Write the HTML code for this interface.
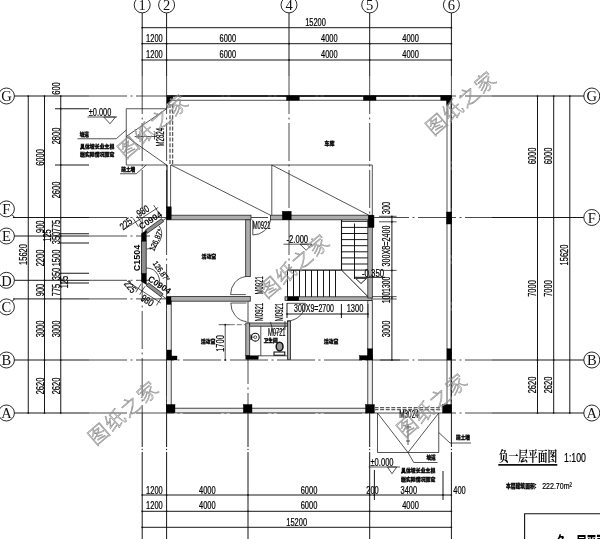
<!DOCTYPE html>
<html lang="zh"><head><meta charset="utf-8"><title>负一层平面图</title>
<style>
html,body{margin:0;padding:0;background:#fff;}
svg{display:block;filter:grayscale(1);}
text{font-family:"Liberation Sans","Noto Sans CJK SC",sans-serif;fill:#111;}
.t{stroke:#1c1c1c;stroke-width:.75;fill:none;}
.m{stroke:#111;stroke-width:1.1;fill:none;}
.x{stroke:#0c0c0c;stroke-width:.95;fill:none;}
.g{stroke:#000;stroke-width:1.5;fill:none;}
.u{stroke:#111;stroke-width:1.6;fill:none;}
.a{stroke:#1c1c1c;stroke-width:.8;fill:none;stroke-dasharray:38 3.5 2 3.5;}
.a2{stroke:#2a2a2a;stroke-width:.65;fill:none;stroke-dasharray:5 2;}
.dash{stroke:#5c5c5c;stroke-width:1.3;fill:none;stroke-dasharray:4 1.6;}
.w{stroke:#222;stroke-width:.8;fill:#adadad;}
.wl{stroke:#1c1c1c;stroke-width:.8;fill:#eee;}
.ws{stroke:#1c1c1c;stroke-width:.8;fill:#8e8e8e;}
.k{fill:#000;stroke:#000;stroke-width:.4;}
.kk{fill:#222;stroke:none;}
.tk{fill:#fff;stroke:#000;stroke-width:1;}
.c{fill:#fff;stroke:#111;stroke-width:.9;}
.s{font-family:"Liberation Serif","Noto Serif CJK SC",serif;}
.d{fill:#000;stroke:#000;stroke-width:.22;}
.b{font-weight:bold;fill:#000;}
.cb{font-family:"Noto Sans CJK SC",sans-serif;font-weight:900;fill:#000;stroke:#000;stroke-width:.3;}
.title{font-family:"Noto Serif CJK SC","Noto Sans CJK SC",serif;font-weight:700;fill:#000;}
.tb{font-family:"Noto Sans CJK SC",sans-serif;font-weight:900;fill:#000;}
.wm{font-family:"Noto Sans CJK SC",sans-serif;font-weight:300;fill:none;stroke:#8e8e8e;stroke-width:.6;}
</style></head>
<body>
<svg width="600" height="539" viewBox="0 0 600 539">
<rect x="0" y="0" width="600" height="539" fill="#fff"/>
<line class="x" x1="142.20" y1="12.50" x2="142.20" y2="76.00" />
<line class="x" x1="166.60" y1="12.50" x2="166.60" y2="76.00" />
<line class="x" x1="289.00" y1="12.50" x2="289.00" y2="76.00" />
<line class="x" x1="369.70" y1="12.50" x2="369.70" y2="76.00" />
<line class="x" x1="451.40" y1="12.50" x2="451.40" y2="76.00" />
<line class="a" x1="142.20" y1="76.00" x2="142.20" y2="413.00" />
<line class="a" x1="166.60" y1="76.00" x2="166.60" y2="413.00" />
<line class="a" x1="369.70" y1="76.00" x2="369.70" y2="413.00" />
<line class="a" x1="451.40" y1="76.00" x2="451.40" y2="413.00" />
<line class="a" x1="289.00" y1="76.00" x2="289.00" y2="270.00" />
<line class="a" x1="248.00" y1="299.00" x2="248.00" y2="413.00" />
<line class="x" x1="142.20" y1="413.00" x2="142.20" y2="447.00" />
<line class="x" x1="142.20" y1="452.00" x2="142.20" y2="539.00" />
<line class="x" x1="142.20" y1="448.80" x2="142.20" y2="450.20" />
<line class="x" x1="166.60" y1="413.00" x2="166.60" y2="447.00" />
<line class="x" x1="166.60" y1="452.00" x2="166.60" y2="539.00" />
<line class="x" x1="166.60" y1="448.80" x2="166.60" y2="450.20" />
<line class="x" x1="248.00" y1="413.00" x2="248.00" y2="447.00" />
<line class="x" x1="248.00" y1="452.00" x2="248.00" y2="539.00" />
<line class="x" x1="248.00" y1="448.80" x2="248.00" y2="450.20" />
<line class="x" x1="369.70" y1="413.00" x2="369.70" y2="447.00" />
<line class="x" x1="369.70" y1="452.00" x2="369.70" y2="539.00" />
<line class="x" x1="369.70" y1="448.80" x2="369.70" y2="450.20" />
<line class="x" x1="451.40" y1="413.00" x2="451.40" y2="447.00" />
<line class="x" x1="451.40" y1="452.00" x2="451.40" y2="539.00" />
<line class="x" x1="451.40" y1="448.80" x2="451.40" y2="450.20" />
<line class="x" x1="13.00" y1="96.00" x2="89.00" y2="96.00" />
<line class="x" x1="13.00" y1="217.50" x2="89.00" y2="217.50" />
<line class="x" x1="13.00" y1="236.00" x2="89.00" y2="236.00" />
<line class="x" x1="13.00" y1="280.30" x2="89.00" y2="280.30" />
<line class="x" x1="13.00" y1="298.90" x2="89.00" y2="298.90" />
<line class="x" x1="13.00" y1="360.00" x2="89.00" y2="360.00" />
<line class="x" x1="13.00" y1="413.00" x2="89.00" y2="413.00" />
<line class="a" x1="89.00" y1="96.00" x2="492.00" y2="96.00" />
<line class="a" x1="89.00" y1="217.50" x2="492.00" y2="217.50" />
<line class="a" x1="89.00" y1="360.00" x2="492.00" y2="360.00" />
<line class="a" x1="89.00" y1="413.00" x2="492.00" y2="413.00" />
<line class="a" x1="89.00" y1="236.00" x2="150.00" y2="236.00" />
<line class="a" x1="89.00" y1="280.30" x2="150.00" y2="280.30" />
<line class="a" x1="89.00" y1="298.90" x2="167.00" y2="298.90" />
<line class="x" x1="492.00" y1="96.00" x2="584.00" y2="96.00" />
<line class="x" x1="492.00" y1="217.50" x2="584.00" y2="217.50" />
<line class="x" x1="492.00" y1="360.00" x2="584.00" y2="360.00" />
<line class="x" x1="492.00" y1="413.00" x2="584.00" y2="413.00" />
<line class="x" x1="11.80" y1="214.40" x2="14.60" y2="217.40" />
<line class="x" x1="11.80" y1="301.60" x2="14.60" y2="299.00" />
<circle class="c" cx="142.20" cy="4.90" r="8.0"/>
<text class="s" transform="translate(142.20,5.10)" y="5.22" font-size="14.5" text-anchor="middle" >1</text>
<circle class="c" cx="166.60" cy="4.90" r="8.0"/>
<text class="s" transform="translate(166.60,5.10)" y="5.22" font-size="14.5" text-anchor="middle" >2</text>
<circle class="c" cx="289.00" cy="4.90" r="8.0"/>
<text class="s" transform="translate(289.00,5.10)" y="5.22" font-size="14.5" text-anchor="middle" >4</text>
<circle class="c" cx="369.70" cy="4.90" r="8.0"/>
<text class="s" transform="translate(369.70,5.10)" y="5.22" font-size="14.5" text-anchor="middle" >5</text>
<circle class="c" cx="451.40" cy="4.90" r="8.0"/>
<text class="s" transform="translate(451.40,5.10)" y="5.22" font-size="14.5" text-anchor="middle" >6</text>
<circle class="c" cx="6.40" cy="96.00" r="8.0"/>
<text class="s" transform="translate(6.40,96.20)" y="5.22" font-size="14.5" text-anchor="middle" >G</text>
<circle class="c" cx="6.40" cy="208.90" r="8.0"/>
<text class="s" transform="translate(6.40,209.10)" y="5.22" font-size="14.5" text-anchor="middle" >F</text>
<circle class="c" cx="6.40" cy="236.00" r="8.0"/>
<text class="s" transform="translate(6.40,236.20)" y="5.22" font-size="14.5" text-anchor="middle" >E</text>
<circle class="c" cx="6.40" cy="280.30" r="8.0"/>
<text class="s" transform="translate(6.40,280.50)" y="5.22" font-size="14.5" text-anchor="middle" >D</text>
<circle class="c" cx="6.40" cy="306.90" r="8.0"/>
<text class="s" transform="translate(6.40,307.10)" y="5.22" font-size="14.5" text-anchor="middle" >C</text>
<circle class="c" cx="6.40" cy="360.00" r="8.0"/>
<text class="s" transform="translate(6.40,360.20)" y="5.22" font-size="14.5" text-anchor="middle" >B</text>
<circle class="c" cx="6.40" cy="413.00" r="8.0"/>
<text class="s" transform="translate(6.40,413.20)" y="5.22" font-size="14.5" text-anchor="middle" >A</text>
<circle class="c" cx="591.80" cy="96.00" r="8.0"/>
<text class="s" transform="translate(591.80,96.20)" y="5.22" font-size="14.5" text-anchor="middle" >G</text>
<circle class="c" cx="591.80" cy="217.50" r="8.0"/>
<text class="s" transform="translate(591.80,217.70)" y="5.22" font-size="14.5" text-anchor="middle" >F</text>
<circle class="c" cx="591.80" cy="360.00" r="8.0"/>
<text class="s" transform="translate(591.80,360.20)" y="5.22" font-size="14.5" text-anchor="middle" >B</text>
<circle class="c" cx="591.80" cy="413.00" r="8.0"/>
<text class="s" transform="translate(591.80,413.20)" y="5.22" font-size="14.5" text-anchor="middle" >A</text>
<line class="x" x1="142.20" y1="27.70" x2="451.40" y2="27.70" />
<line class="x" x1="142.20" y1="43.70" x2="451.40" y2="43.70" />
<line class="x" x1="142.20" y1="60.00" x2="451.40" y2="60.00" />
<text class="d" transform="translate(315.50,22.70)" y="3.60" font-size="10" text-anchor="middle" textLength="20.75" lengthAdjust="spacingAndGlyphs" >15200</text>
<text class="d" transform="translate(154.40,38.30)" y="3.60" font-size="10" text-anchor="middle" textLength="16.60" lengthAdjust="spacingAndGlyphs" >1200</text>
<text class="d" transform="translate(227.80,38.30)" y="3.60" font-size="10" text-anchor="middle" textLength="16.60" lengthAdjust="spacingAndGlyphs" >6000</text>
<text class="d" transform="translate(329.35,38.30)" y="3.60" font-size="10" text-anchor="middle" textLength="16.60" lengthAdjust="spacingAndGlyphs" >4000</text>
<text class="d" transform="translate(410.55,38.30)" y="3.60" font-size="10" text-anchor="middle" textLength="16.60" lengthAdjust="spacingAndGlyphs" >4000</text>
<circle cx="142.20" cy="43.70" r="0.85" fill="#111"/>
<circle cx="166.60" cy="43.70" r="0.85" fill="#111"/>
<circle cx="289.00" cy="43.70" r="0.85" fill="#111"/>
<circle cx="369.70" cy="43.70" r="0.85" fill="#111"/>
<circle cx="451.40" cy="43.70" r="0.85" fill="#111"/>
<text class="d" transform="translate(154.40,54.30)" y="3.60" font-size="10" text-anchor="middle" textLength="16.60" lengthAdjust="spacingAndGlyphs" >1200</text>
<text class="d" transform="translate(227.80,54.30)" y="3.60" font-size="10" text-anchor="middle" textLength="16.60" lengthAdjust="spacingAndGlyphs" >6000</text>
<text class="d" transform="translate(329.35,54.30)" y="3.60" font-size="10" text-anchor="middle" textLength="16.60" lengthAdjust="spacingAndGlyphs" >4000</text>
<text class="d" transform="translate(410.55,54.30)" y="3.60" font-size="10" text-anchor="middle" textLength="16.60" lengthAdjust="spacingAndGlyphs" >4000</text>
<circle cx="142.20" cy="60.00" r="0.85" fill="#111"/>
<circle cx="166.60" cy="60.00" r="0.85" fill="#111"/>
<circle cx="289.00" cy="60.00" r="0.85" fill="#111"/>
<circle cx="369.70" cy="60.00" r="0.85" fill="#111"/>
<circle cx="451.40" cy="60.00" r="0.85" fill="#111"/>
<circle cx="142.20" cy="27.70" r="0.85" fill="#111"/>
<circle cx="451.40" cy="27.70" r="0.85" fill="#111"/>
<line class="x" x1="142.20" y1="495.00" x2="451.40" y2="495.00" />
<line class="x" x1="142.20" y1="511.30" x2="451.40" y2="511.30" />
<line class="x" x1="142.20" y1="527.30" x2="451.40" y2="527.30" />
<text class="d" transform="translate(154.40,490.00)" y="3.60" font-size="10" text-anchor="middle" textLength="16.60" lengthAdjust="spacingAndGlyphs" >1200</text>
<text class="d" transform="translate(207.30,490.00)" y="3.60" font-size="10" text-anchor="middle" textLength="16.60" lengthAdjust="spacingAndGlyphs" >4000</text>
<text class="d" transform="translate(309.00,490.00)" y="3.60" font-size="10" text-anchor="middle" textLength="16.60" lengthAdjust="spacingAndGlyphs" >6000</text>
<text class="d" transform="translate(372.50,490.00)" y="3.60" font-size="10" text-anchor="middle" textLength="12.45" lengthAdjust="spacingAndGlyphs" >200</text>
<text class="d" transform="translate(408.80,490.00)" y="3.60" font-size="10" text-anchor="middle" textLength="16.60" lengthAdjust="spacingAndGlyphs" >3400</text>
<text class="d" transform="translate(459.50,490.00)" y="3.60" font-size="10" text-anchor="middle" textLength="12.45" lengthAdjust="spacingAndGlyphs" >400</text>
<text class="d" transform="translate(154.40,505.60)" y="3.60" font-size="10" text-anchor="middle" textLength="16.60" lengthAdjust="spacingAndGlyphs" >1200</text>
<text class="d" transform="translate(207.30,505.60)" y="3.60" font-size="10" text-anchor="middle" textLength="16.60" lengthAdjust="spacingAndGlyphs" >4000</text>
<text class="d" transform="translate(309.00,505.60)" y="3.60" font-size="10" text-anchor="middle" textLength="16.60" lengthAdjust="spacingAndGlyphs" >6000</text>
<text class="d" transform="translate(410.50,505.60)" y="3.60" font-size="10" text-anchor="middle" textLength="16.60" lengthAdjust="spacingAndGlyphs" >4000</text>
<text class="d" transform="translate(296.70,522.00)" y="3.60" font-size="10" text-anchor="middle" textLength="20.75" lengthAdjust="spacingAndGlyphs" >15200</text>
<circle cx="142.20" cy="495.00" r="0.85" fill="#111"/>
<circle cx="142.20" cy="511.30" r="0.85" fill="#111"/>
<circle cx="166.60" cy="495.00" r="0.85" fill="#111"/>
<circle cx="166.60" cy="511.30" r="0.85" fill="#111"/>
<circle cx="248.00" cy="495.00" r="0.85" fill="#111"/>
<circle cx="248.00" cy="511.30" r="0.85" fill="#111"/>
<circle cx="369.70" cy="495.00" r="0.85" fill="#111"/>
<circle cx="369.70" cy="511.30" r="0.85" fill="#111"/>
<circle cx="451.40" cy="495.00" r="0.85" fill="#111"/>
<circle cx="451.40" cy="511.30" r="0.85" fill="#111"/>
<circle cx="142.20" cy="527.30" r="0.85" fill="#111"/>
<circle cx="451.40" cy="527.30" r="0.85" fill="#111"/>
<line class="x" x1="374.40" y1="470.00" x2="374.40" y2="500.00" />
<line class="x" x1="443.00" y1="471.00" x2="443.00" y2="500.00" />
<circle cx="374.30" cy="495.00" r="0.85" fill="#111"/>
<circle cx="443.00" cy="495.00" r="0.85" fill="#111"/>
<line class="x" x1="28.25" y1="96.00" x2="28.25" y2="413.00" />
<line class="x" x1="44.50" y1="96.00" x2="44.50" y2="413.00" />
<line class="x" x1="60.75" y1="96.00" x2="60.75" y2="413.00" />
<text class="d" transform="translate(23.00,254.50) rotate(-90)" y="3.60" font-size="10" text-anchor="middle" textLength="20.75" lengthAdjust="spacingAndGlyphs" >15620</text>
<text class="d" transform="translate(40.00,157.50) rotate(-90)" y="3.60" font-size="10" text-anchor="middle" textLength="16.60" lengthAdjust="spacingAndGlyphs" >6000</text>
<text class="d" transform="translate(40.00,226.80) rotate(-90)" y="3.60" font-size="10" text-anchor="middle" textLength="12.45" lengthAdjust="spacingAndGlyphs" >900</text>
<text class="d" transform="translate(40.00,258.00) rotate(-90)" y="3.60" font-size="10" text-anchor="middle" textLength="16.60" lengthAdjust="spacingAndGlyphs" >2200</text>
<text class="d" transform="translate(40.00,290.00) rotate(-90)" y="3.60" font-size="10" text-anchor="middle" textLength="12.45" lengthAdjust="spacingAndGlyphs" >900</text>
<text class="d" transform="translate(40.00,329.00) rotate(-90)" y="3.60" font-size="10" text-anchor="middle" textLength="16.60" lengthAdjust="spacingAndGlyphs" >3000</text>
<text class="d" transform="translate(40.00,386.00) rotate(-90)" y="3.60" font-size="10" text-anchor="middle" textLength="16.60" lengthAdjust="spacingAndGlyphs" >2620</text>
<text class="d" transform="translate(56.30,88.50) rotate(-90)" y="3.60" font-size="10" text-anchor="middle" textLength="12.45" lengthAdjust="spacingAndGlyphs" >600</text>
<text class="d" transform="translate(56.30,136.00) rotate(-90)" y="3.60" font-size="10" text-anchor="middle" textLength="16.60" lengthAdjust="spacingAndGlyphs" >2800</text>
<text class="d" transform="translate(56.30,190.00) rotate(-90)" y="3.60" font-size="10" text-anchor="middle" textLength="16.60" lengthAdjust="spacingAndGlyphs" >2600</text>
<text class="d" transform="translate(56.30,226.00) rotate(-90)" y="3.60" font-size="10" text-anchor="middle" textLength="12.45" lengthAdjust="spacingAndGlyphs" >775</text>
<text class="d" transform="translate(56.30,258.00) rotate(-90)" y="3.60" font-size="10" text-anchor="middle" textLength="16.60" lengthAdjust="spacingAndGlyphs" >1500</text>
<text class="d" transform="translate(56.30,290.00) rotate(-90)" y="3.60" font-size="10" text-anchor="middle" textLength="12.45" lengthAdjust="spacingAndGlyphs" >775</text>
<text class="d" transform="translate(56.30,329.00) rotate(-90)" y="3.60" font-size="10" text-anchor="middle" textLength="16.60" lengthAdjust="spacingAndGlyphs" >3000</text>
<text class="d" transform="translate(56.30,386.00) rotate(-90)" y="3.60" font-size="10" text-anchor="middle" textLength="16.60" lengthAdjust="spacingAndGlyphs" >2620</text>
<text class="d" transform="translate(56.30,238.00) rotate(-90)" y="3.60" font-size="10" text-anchor="middle" textLength="12.45" lengthAdjust="spacingAndGlyphs" >350</text>
<text class="d" transform="translate(47.50,235.50) rotate(-90)" y="3.60" font-size="10" text-anchor="middle" textLength="12.45" lengthAdjust="spacingAndGlyphs" >125</text>
<text class="d" transform="translate(56.30,274.00) rotate(-90)" y="3.60" font-size="10" text-anchor="middle" textLength="12.45" lengthAdjust="spacingAndGlyphs" >350</text>
<text class="d" transform="translate(64.00,282.00) rotate(-90)" y="3.60" font-size="10" text-anchor="middle" textLength="12.45" lengthAdjust="spacingAndGlyphs" >125</text>
<line class="x" x1="55.00" y1="108.75" x2="89.00" y2="108.75" />
<line class="x" x1="55.00" y1="165.00" x2="89.00" y2="165.00" />
<line class="x" x1="60.00" y1="233.75" x2="89.00" y2="233.75" />
<line class="x" x1="60.00" y1="243.00" x2="89.00" y2="243.00" />
<line class="x" x1="60.00" y1="273.25" x2="89.00" y2="273.25" />
<line class="x" x1="60.00" y1="283.00" x2="89.00" y2="283.00" />
<circle cx="44.50" cy="96.00" r="0.85" fill="#111"/>
<circle cx="60.75" cy="96.00" r="0.85" fill="#111"/>
<circle cx="44.50" cy="217.50" r="0.85" fill="#111"/>
<circle cx="60.75" cy="217.50" r="0.85" fill="#111"/>
<circle cx="44.50" cy="236.00" r="0.85" fill="#111"/>
<circle cx="60.75" cy="236.00" r="0.85" fill="#111"/>
<circle cx="44.50" cy="280.30" r="0.85" fill="#111"/>
<circle cx="60.75" cy="280.30" r="0.85" fill="#111"/>
<circle cx="44.50" cy="298.90" r="0.85" fill="#111"/>
<circle cx="60.75" cy="298.90" r="0.85" fill="#111"/>
<circle cx="44.50" cy="360.00" r="0.85" fill="#111"/>
<circle cx="60.75" cy="360.00" r="0.85" fill="#111"/>
<circle cx="44.50" cy="413.00" r="0.85" fill="#111"/>
<circle cx="60.75" cy="413.00" r="0.85" fill="#111"/>
<circle cx="28.25" cy="96.00" r="0.85" fill="#111"/>
<circle cx="28.25" cy="413.00" r="0.85" fill="#111"/>
<circle cx="60.75" cy="108.75" r="0.85" fill="#111"/>
<circle cx="60.75" cy="165.00" r="0.85" fill="#111"/>
<line class="x" x1="537.50" y1="96.00" x2="537.50" y2="413.00" />
<line class="x" x1="553.70" y1="96.00" x2="553.70" y2="413.00" />
<line class="x" x1="569.80" y1="96.00" x2="569.80" y2="413.00" />
<text class="d" transform="translate(532.50,156.00) rotate(-90)" y="3.60" font-size="10" text-anchor="middle" textLength="16.60" lengthAdjust="spacingAndGlyphs" >6000</text>
<text class="d" transform="translate(532.50,288.50) rotate(-90)" y="3.60" font-size="10" text-anchor="middle" textLength="16.60" lengthAdjust="spacingAndGlyphs" >7000</text>
<text class="d" transform="translate(532.50,385.00) rotate(-90)" y="3.60" font-size="10" text-anchor="middle" textLength="16.60" lengthAdjust="spacingAndGlyphs" >2620</text>
<text class="d" transform="translate(548.60,156.00) rotate(-90)" y="3.60" font-size="10" text-anchor="middle" textLength="16.60" lengthAdjust="spacingAndGlyphs" >6000</text>
<text class="d" transform="translate(548.60,288.50) rotate(-90)" y="3.60" font-size="10" text-anchor="middle" textLength="16.60" lengthAdjust="spacingAndGlyphs" >7000</text>
<text class="d" transform="translate(548.60,385.00) rotate(-90)" y="3.60" font-size="10" text-anchor="middle" textLength="16.60" lengthAdjust="spacingAndGlyphs" >2620</text>
<text class="d" transform="translate(564.00,255.00) rotate(-90)" y="3.60" font-size="10" text-anchor="middle" textLength="20.75" lengthAdjust="spacingAndGlyphs" >15620</text>
<circle cx="537.50" cy="96.00" r="0.85" fill="#111"/>
<circle cx="553.70" cy="96.00" r="0.85" fill="#111"/>
<circle cx="537.50" cy="217.50" r="0.85" fill="#111"/>
<circle cx="553.70" cy="217.50" r="0.85" fill="#111"/>
<circle cx="537.50" cy="360.00" r="0.85" fill="#111"/>
<circle cx="553.70" cy="360.00" r="0.85" fill="#111"/>
<circle cx="537.50" cy="413.00" r="0.85" fill="#111"/>
<circle cx="553.70" cy="413.00" r="0.85" fill="#111"/>
<circle cx="569.80" cy="96.00" r="0.85" fill="#111"/>
<circle cx="569.80" cy="413.00" r="0.85" fill="#111"/>
<line class="g" x1="166.60" y1="96.00" x2="451.40" y2="96.00" />
<line class="t" x1="171.00" y1="100.30" x2="447.00" y2="100.30" />
<line class="t" x1="447.00" y1="100.30" x2="447.00" y2="413.00" />
<line class="m" x1="451.20" y1="96.00" x2="451.20" y2="413.00" />
<line class="m" x1="167.00" y1="165.00" x2="167.00" y2="217.00" />
<line class="t" x1="170.60" y1="165.00" x2="170.60" y2="217.00" />
<rect class="w" x="167.00" y="215.20" width="84.00" height="4.60"/>
<rect class="w" x="270.50" y="215.20" width="102.00" height="4.60"/>
<rect class="w" x="245.70" y="219.80" width="4.60" height="56.80"/>
<rect class="w" x="167.00" y="296.50" width="83.30" height="4.70"/>
<rect class="w" x="285.00" y="296.80" width="87.00" height="3.80"/>
<rect class="wl" x="166.60" y="301.00" width="4.60" height="106.50"/>
<rect class="wl" x="167.00" y="408.20" width="205.00" height="4.70"/>
<rect class="w" x="367.80" y="219.80" width="4.50" height="78.20"/>
<rect class="wl" x="367.80" y="300.60" width="4.50" height="106.90"/>
<rect class="w" x="245.80" y="323.00" width="3.90" height="32.60"/>
<rect class="w" x="287.40" y="321.00" width="3.20" height="38.30"/>
<rect class="w" x="249.70" y="323.00" width="37.70" height="3.20"/>
<line class="t" x1="258.00" y1="355.80" x2="287.40" y2="355.80" />
<line class="t" x1="260.80" y1="326.20" x2="260.80" y2="355.80" />
<rect class="k" x="286.50" y="96.00" width="12.80" height="4.20"/>
<rect class="k" x="363.40" y="96.00" width="12.60" height="4.20"/>
<path class="k" d="M440.7,95.7 L451.3,95.7 L451.3,100 L448.5,105.3 L446.7,105.3 L446.7,100.2 L440.7,100.2 Z"/>
<path class="k" d="M167,97 L172.5,96.3 L173,98 L168.5,103.5 L167,103.5 Z"/>
<rect class="k" x="166.50" y="206.80" width="4.70" height="12.80"/>
<rect class="k" x="282.30" y="211.30" width="8.90" height="8.50"/>
<rect class="k" x="368.20" y="215.20" width="5.80" height="12.30"/>
<rect class="k" x="446.50" y="212.00" width="5.10" height="12.00"/>
<rect class="k" x="166.50" y="297.00" width="4.50" height="7.40"/>
<rect class="k" x="287.50" y="296.80" width="11.30" height="3.80"/>
<rect class="k" x="167.00" y="350.00" width="4.20" height="10.00"/>
<rect class="k" x="167.00" y="356.00" width="10.00" height="4.00"/>
<rect class="k" x="367.80" y="348.80" width="4.70" height="11.20"/>
<rect class="k" x="359.50" y="355.60" width="13.00" height="4.40"/>
<rect class="k" x="447.00" y="348.80" width="4.60" height="11.20"/>
<rect class="k" x="166.20" y="404.50" width="8.80" height="8.30"/>
<rect class="k" x="243.30" y="404.50" width="8.70" height="8.30"/>
<rect class="k" x="365.50" y="404.50" width="8.90" height="8.50"/>
<rect class="k" x="442.50" y="404.50" width="8.90" height="8.50"/>
<rect class="k" x="245.80" y="355.80" width="12.40" height="3.50"/>
<line class="dash" x1="170.00" y1="104.00" x2="170.00" y2="165.00" />
<line class="dash" x1="172.60" y1="104.00" x2="172.60" y2="165.00" />
<line class="dash" x1="374.50" y1="407.60" x2="442.50" y2="407.60" />
<line class="dash" x1="374.50" y1="409.70" x2="442.50" y2="409.70" />
<line class="t" x1="171.00" y1="165.00" x2="372.30" y2="165.00" />
<line class="t" x1="271.80" y1="165.00" x2="271.80" y2="215.00" />
<line class="t" x1="372.30" y1="165.00" x2="372.30" y2="215.00" />
<line class="t" x1="171.00" y1="165.00" x2="270.00" y2="215.00" />
<line class="t" x1="271.80" y1="165.00" x2="368.50" y2="215.00" />
<text class="cb" transform="translate(329.50,143.00)" y="1.80" font-size="5" text-anchor="middle" >车库</text>
<line class="m" x1="341.50" y1="219.80" x2="341.50" y2="270.10" />
<line class="x" x1="341.50" y1="270.10" x2="367.80" y2="270.10" />
<line class="x" x1="341.50" y1="264.00" x2="367.80" y2="264.00" />
<line class="x" x1="341.50" y1="257.90" x2="367.80" y2="257.90" />
<line class="x" x1="341.50" y1="251.80" x2="367.80" y2="251.80" />
<line class="x" x1="341.50" y1="245.70" x2="367.80" y2="245.70" />
<line class="x" x1="341.50" y1="239.60" x2="367.80" y2="239.60" />
<line class="x" x1="341.50" y1="233.50" x2="367.80" y2="233.50" />
<line class="x" x1="341.50" y1="227.40" x2="367.80" y2="227.40" />
<line class="x" x1="341.50" y1="221.30" x2="367.80" y2="221.30" />
<line class="m" x1="288.00" y1="270.10" x2="341.50" y2="270.10" />
<line class="x" x1="335.50" y1="270.10" x2="335.50" y2="296.80" />
<line class="x" x1="329.50" y1="270.10" x2="329.50" y2="296.80" />
<line class="x" x1="323.50" y1="270.10" x2="323.50" y2="296.80" />
<line class="x" x1="317.50" y1="270.10" x2="317.50" y2="296.80" />
<line class="x" x1="311.50" y1="270.10" x2="311.50" y2="296.80" />
<line class="x" x1="305.50" y1="270.10" x2="305.50" y2="296.80" />
<line class="x" x1="299.50" y1="270.10" x2="299.50" y2="296.80" />
<line class="x" x1="293.50" y1="270.10" x2="293.50" y2="296.80" />
<line class="x" x1="287.50" y1="270.10" x2="287.50" y2="296.80" />
<line class="x" x1="341.50" y1="270.10" x2="367.80" y2="296.50" />
<line class="x" x1="354.50" y1="223.50" x2="354.50" y2="279.00" />
<path class="x" d="M355.5,278.3 L366.6,278.3 L361,283.5 Z"/>
<line class="x" x1="354.00" y1="277.30" x2="385.00" y2="277.30" />
<text class="d" transform="translate(373.00,273.30)" y="3.60" font-size="10" text-anchor="middle" textLength="22.20" lengthAdjust="spacingAndGlyphs" >-0.350</text>
<text class="d" transform="translate(297.30,239.50)" y="3.60" font-size="10" text-anchor="middle" textLength="21.60" lengthAdjust="spacingAndGlyphs" >-2.000</text>
<line class="t" x1="283.40" y1="244.20" x2="308.50" y2="244.20" />
<path class="t" d="M300,244.2 L312,244.2 L306.2,250.3 Z"/>
<line class="x" x1="287.00" y1="314.00" x2="368.00" y2="314.00" />
<line class="x" x1="287.00" y1="303.00" x2="287.00" y2="318.00" />
<line class="x" x1="341.40" y1="304.00" x2="341.40" y2="318.00" />
<line class="t" x1="368.00" y1="304.00" x2="368.00" y2="318.00" />
<circle cx="287.00" cy="314.00" r="0.85" fill="#111"/>
<circle cx="341.40" cy="314.00" r="0.85" fill="#111"/>
<circle cx="368.00" cy="314.00" r="0.85" fill="#111"/>
<text class="d" transform="translate(314.00,308.70)" y="3.60" font-size="10" text-anchor="middle" textLength="40.00" lengthAdjust="spacingAndGlyphs" >300X9=2700</text>
<text class="d" transform="translate(355.00,308.70)" y="3.60" font-size="10" text-anchor="middle" textLength="16.60" lengthAdjust="spacingAndGlyphs" >1300</text>
<line class="x" x1="391.90" y1="216.30" x2="391.90" y2="360.00" />
<line class="t" x1="379.00" y1="216.30" x2="396.60" y2="216.30" />
<line class="t" x1="379.00" y1="221.80" x2="396.60" y2="221.80" />
<line class="t" x1="379.00" y1="270.40" x2="396.60" y2="270.40" />
<line class="t" x1="372.30" y1="296.60" x2="396.60" y2="296.60" />
<line class="t" x1="372.30" y1="299.00" x2="396.60" y2="299.00" />
<circle cx="391.90" cy="216.30" r="0.85" fill="#111"/>
<circle cx="391.90" cy="221.80" r="0.85" fill="#111"/>
<circle cx="391.90" cy="270.40" r="0.85" fill="#111"/>
<text class="d" transform="translate(386.60,208.00) rotate(-90)" y="3.60" font-size="10" text-anchor="middle" textLength="12.45" lengthAdjust="spacingAndGlyphs" >300</text>
<text class="d" transform="translate(386.60,246.00) rotate(-90)" y="3.60" font-size="10" text-anchor="middle" textLength="41.00" lengthAdjust="spacingAndGlyphs" >300X8=2400</text>
<text class="d" transform="translate(386.60,290.00) rotate(-90)" y="3.60" font-size="10" text-anchor="middle" textLength="26.60" lengthAdjust="spacingAndGlyphs" >1001300</text>
<text class="d" transform="translate(386.30,329.00) rotate(-90)" y="3.60" font-size="10" text-anchor="middle" textLength="16.60" lengthAdjust="spacingAndGlyphs" >3000</text>
<circle cx="391.90" cy="360.00" r="0.85" fill="#111"/>
<circle cx="391.90" cy="297.80" r="0.85" fill="#111"/>
<line class="t" x1="380.00" y1="360.00" x2="400.00" y2="360.00" />
<line class="t" x1="252.80" y1="219.80" x2="252.80" y2="235.00" />
<path class="t" d="M252.8,235 A17.7,17.7 0 0 0 270.5,219.8"/>
<text class="d" transform="translate(261.60,225.80)" y="3.60" font-size="10" text-anchor="middle" textLength="17.75" lengthAdjust="spacingAndGlyphs" >M0921</text>
<line class="t" x1="230.60" y1="294.60" x2="245.80" y2="294.60" />
<path class="t" d="M230.6,294.6 A17,18 0 0 1 245.8,276.6"/>
<line class="t" x1="230.80" y1="303.00" x2="246.50" y2="303.00" />
<path class="t" d="M230.8,303 A17,18.6 0 0 0 246.5,321.6"/>
<line class="t" x1="287.00" y1="303.30" x2="305.30" y2="303.30" />
<path class="t" d="M287,321 A18.3,17.7 0 0 0 305.3,303.3"/>
<text class="d" transform="translate(259.30,285.30) rotate(-90)" y="3.60" font-size="10" text-anchor="middle" textLength="18.25" lengthAdjust="spacingAndGlyphs" >M0921</text>
<text class="d" transform="translate(259.80,312.00) rotate(-90)" y="3.60" font-size="10" text-anchor="middle" textLength="18.25" lengthAdjust="spacingAndGlyphs" >M0921</text>
<text class="d" transform="translate(279.00,312.00) rotate(-90)" y="3.60" font-size="10" text-anchor="middle" textLength="18.25" lengthAdjust="spacingAndGlyphs" >M0921</text>
<text class="d" transform="translate(276.80,332.00)" y="3.60" font-size="10" text-anchor="middle" textLength="17.50" lengthAdjust="spacingAndGlyphs" >M0721</text>
<line class="t" x1="270.50" y1="322.00" x2="273.30" y2="333.00" />
<path class="t" d="M273.3,333 A12,12 0 0 0 285,326.5"/>
<line class="t" x1="285.00" y1="321.00" x2="285.00" y2="330.00" />
<circle class="m" cx="255.3" cy="337.2" r="3.9"/><circle class="t" cx="255.3" cy="337.2" r="1.4"/>
<line class="m" x1="251.00" y1="334.40" x2="251.00" y2="340.00" />
<line class="t" x1="251.00" y1="337.20" x2="253.80" y2="337.20" />
<ellipse cx="279.6" cy="346.6" rx="3.4" ry="4.3" fill="#999" stroke="#111" stroke-width="1.5"/>
<rect class="tk" x="274.00" y="352.00" width="10.80" height="3.20"/>
<text class="cb" transform="translate(270.60,340.50)" y="1.66" font-size="4.6" text-anchor="middle" >卫生间</text>
<line class="t" x1="225.20" y1="324.70" x2="225.20" y2="360.00" />
<line class="t" x1="218.70" y1="324.70" x2="229.80" y2="324.70" />
<line class="a2" x1="229.80" y1="324.70" x2="245.00" y2="324.70" />
<text class="d" transform="translate(220.50,343.50) rotate(-90)" y="3.60" font-size="10" text-anchor="middle" textLength="16.60" lengthAdjust="spacingAndGlyphs" >1700</text>
<circle cx="225.20" cy="324.70" r="0.85" fill="#111"/>
<circle cx="225.20" cy="360.00" r="0.85" fill="#111"/>
<text class="cb" transform="translate(208.00,341.00)" y="1.73" font-size="4.8" text-anchor="middle" >活动室</text>
<text class="cb" transform="translate(208.80,256.30)" y="1.73" font-size="4.8" text-anchor="middle" >活动室</text>
<text class="cb" transform="translate(331.00,341.00)" y="1.73" font-size="4.8" text-anchor="middle" >活动室</text>
<path class="t" d="M166.6,218 L142.8,233.4 L142.8,281.3 L166.6,299"/>
<path class="ws" d="M147.25,233.27 L163.65,221.57 L161.55,218.63 L145.15,230.33 Z"/>
<path class="ws" d="M146.31,285.63 L160.91,296.73 L163.09,293.87 L148.49,282.77 Z"/>
<rect class="ws" x="141.50" y="241.10" width="4.70" height="32.60"/>
<path class="k" d="M141.5,233.6 L146.4,230.6 L146.4,241.1 L141.5,241.1 Z"/>
<path class="k" d="M141.5,273.7 L146.4,273.7 L146.4,284.4 L141.5,281.6 Z"/>
<text class="b" transform="translate(137.00,258.00) rotate(-90)" y="3.10" font-size="8.6" text-anchor="middle" textLength="26.50" lengthAdjust="spacingAndGlyphs" >C1504</text>
<text class="b" transform="translate(150.30,220.10) rotate(-33)" y="3.10" font-size="8.6" text-anchor="middle" textLength="25.50" lengthAdjust="spacingAndGlyphs" >C0904</text>
<text class="b" transform="translate(159.60,284.80) rotate(34)" y="3.10" font-size="8.6" text-anchor="middle" textLength="25.50" lengthAdjust="spacingAndGlyphs" >C0904</text>
<text class="d" transform="translate(142.70,210.80) rotate(-33)" y="3.60" font-size="10" text-anchor="middle" textLength="12.90" lengthAdjust="spacingAndGlyphs" >980</text>
<text class="d" transform="translate(125.80,223.60) rotate(-40)" y="3.60" font-size="10" text-anchor="middle" textLength="12.90" lengthAdjust="spacingAndGlyphs" >225</text>
<text class="d" transform="translate(130.40,286.50) rotate(50)" y="3.60" font-size="10" text-anchor="middle" textLength="12.90" lengthAdjust="spacingAndGlyphs" >225</text>
<text class="d" transform="translate(147.40,300.30) rotate(34)" y="3.60" font-size="10" text-anchor="middle" textLength="12.90" lengthAdjust="spacingAndGlyphs" >980</text>
<line class="t" x1="124.59" y1="229.08" x2="158.19" y2="207.48" />
<line class="t" x1="138.48" y1="226.68" x2="133.08" y2="218.28" />
<line class="t" x1="142.34" y1="224.20" x2="136.94" y2="215.80" />
<line class="t" x1="159.06" y1="213.45" x2="153.66" y2="205.05" />
<line class="t" x1="127.29" y1="281.42" x2="160.89" y2="303.02" />
<line class="t" x1="141.18" y1="283.82" x2="135.78" y2="292.22" />
<line class="t" x1="145.04" y1="286.30" x2="139.64" y2="294.70" />
<line class="t" x1="161.76" y1="297.05" x2="156.36" y2="305.45" />
<path class="t" d="M159.1,225.8 A15,15 0 0 1 146.5,249"/>
<path class="t" d="M146.3,268 A13,13 0 0 1 157.4,288"/>
<text class="d" transform="translate(156.10,240.00) rotate(-66)" y="2.88" font-size="8" text-anchor="middle" textLength="23.10" lengthAdjust="spacingAndGlyphs" >126.87°</text>
<text class="d" transform="translate(161.40,271.40) rotate(55)" y="2.88" font-size="8" text-anchor="middle" textLength="23.10" lengthAdjust="spacingAndGlyphs" >126.87°</text>
<path class="t" d="M166.6,108.75 L126.25,108.75 L126.25,165 L166.6,165"/>
<path class="t" d="M166.6,108.75 L126.25,136.5 L166.6,165"/>
<line class="t" x1="166.60" y1="108.75" x2="169.00" y2="103.00" />
<line class="t" x1="134.70" y1="136.50" x2="156.00" y2="136.50" />
<line class="t" x1="138.80" y1="134.00" x2="138.80" y2="139.00" />
<line class="t" x1="154.50" y1="133.50" x2="154.50" y2="139.50" />
<text class="d" transform="translate(160.60,137.20) rotate(-90)" y="3.60" font-size="10" text-anchor="middle" textLength="18.50" lengthAdjust="spacingAndGlyphs" >M2824</text>
<text class="cb" transform="translate(84.30,134.00)" y="1.66" font-size="4.6" text-anchor="middle" >坡道</text>
<path class="t" d="M77.5,138.75 L116.25,138.75 L126.25,130"/>
<text class="cb" transform="translate(97.20,145.80)" y="1.76" font-size="4.9" text-anchor="middle" >具体坡长业主根</text>
<text class="cb" transform="translate(97.20,154.50)" y="1.76" font-size="4.9" text-anchor="middle" >据实际情况而定</text>
<text class="cb" transform="translate(128.20,169.50)" y="1.66" font-size="4.6" text-anchor="middle" >挡土墙</text>
<path class="t" d="M120,173.75 L136.25,173.75 L146.25,165"/>
<text class="d" transform="translate(100.00,112.50)" y="3.60" font-size="10" text-anchor="middle" textLength="22.50" lengthAdjust="spacingAndGlyphs" >±0.000</text>
<line class="t" x1="87.50" y1="117.00" x2="117.00" y2="117.00" />
<path class="t" d="M103.75,117 L115.5,117 L110,123.75 Z"/>
<path class="t" d="M377.5,413 L377.5,452.5 L438.75,452.5 L438.75,413"/>
<path class="t" d="M377.5,413 L408,452.5 L438.75,413"/>
<line class="t" x1="408.00" y1="424.00" x2="408.00" y2="445.00" />
<line class="t" x1="405.50" y1="427.00" x2="410.50" y2="427.00" />
<line class="t" x1="406.00" y1="441.00" x2="410.00" y2="441.00" />
<text class="d" transform="translate(409.00,414.30)" y="3.60" font-size="10" text-anchor="middle" textLength="19.50" lengthAdjust="spacingAndGlyphs" >M3024</text>
<path class="t" d="M408,452.5 L413.75,462.5 L437.5,462.5"/>
<text class="cb" transform="translate(431.00,457.60)" y="1.66" font-size="4.6" text-anchor="middle" >坡道</text>
<path class="t" d="M438.75,432.5 L450,443 L471,443"/>
<text class="cb" transform="translate(463.00,437.60)" y="1.66" font-size="4.6" text-anchor="middle" >挡土墙</text>
<text class="d" transform="translate(382.00,462.30)" y="3.60" font-size="10" text-anchor="middle" textLength="23.10" lengthAdjust="spacingAndGlyphs" >±0.000</text>
<line class="t" x1="368.75" y1="467.00" x2="400.00" y2="467.00" />
<path class="t" d="M387.5,467 L396.75,467 L392,473.75 Z"/>
<text class="cb" transform="translate(418.20,470.20)" y="1.76" font-size="4.9" text-anchor="middle" >具体坡长业主根</text>
<text class="cb" transform="translate(418.20,479.00)" y="1.76" font-size="4.9" text-anchor="middle" >据实际情况而定</text>
<text class="title" transform="translate(527.90,455.90)" y="5.04" font-size="14" text-anchor="middle" textLength="58.50" lengthAdjust="spacingAndGlyphs" >负一层平面图</text>
<line class="u" x1="498.30" y1="464.90" x2="557.30" y2="464.90" />
<text class="d" transform="translate(575.00,457.20)" y="4.68" font-size="13" text-anchor="middle" textLength="22.00" lengthAdjust="spacingAndGlyphs" >1:100</text>
<text class="cb" transform="translate(521.20,486.00)" y="1.91" font-size="5.3" text-anchor="middle" textLength="30.50" lengthAdjust="spacingAndGlyphs" >本层建筑面积:</text>
<text class="d" transform="translate(557.00,485.50)" y="3.42" font-size="9.5" text-anchor="middle" textLength="29.60" lengthAdjust="spacingAndGlyphs" >222.70m²</text>
<path class="m" d="M600,513.7 L524.6,513.7 L524.6,539"/>
<text class="tb" x="556.5" y="548" font-size="16" textLength="60" lengthAdjust="spacingAndGlyphs">负一层平面图</text>
<text class="wm" transform="translate(153.30,126.00) rotate(-40.7)" y="7.20" font-size="20" text-anchor="middle" letter-spacing="1.5">图纸之家</text>
<text class="wm" transform="translate(461.30,103.00) rotate(-40.7)" y="7.20" font-size="20" text-anchor="middle" letter-spacing="1.5">图纸之家</text>
<text class="wm" transform="translate(294.60,266.00) rotate(-40.7)" y="7.20" font-size="20" text-anchor="middle" letter-spacing="1.5">图纸之家</text>
<text class="wm" transform="translate(123.60,412.80) rotate(-40.7)" y="7.20" font-size="20" text-anchor="middle" letter-spacing="1.5">图纸之家</text>
<text class="wm" transform="translate(432.30,405.00) rotate(-40.7)" y="7.20" font-size="20" text-anchor="middle" letter-spacing="1.5">图纸之家</text>
</svg>
</body></html>
